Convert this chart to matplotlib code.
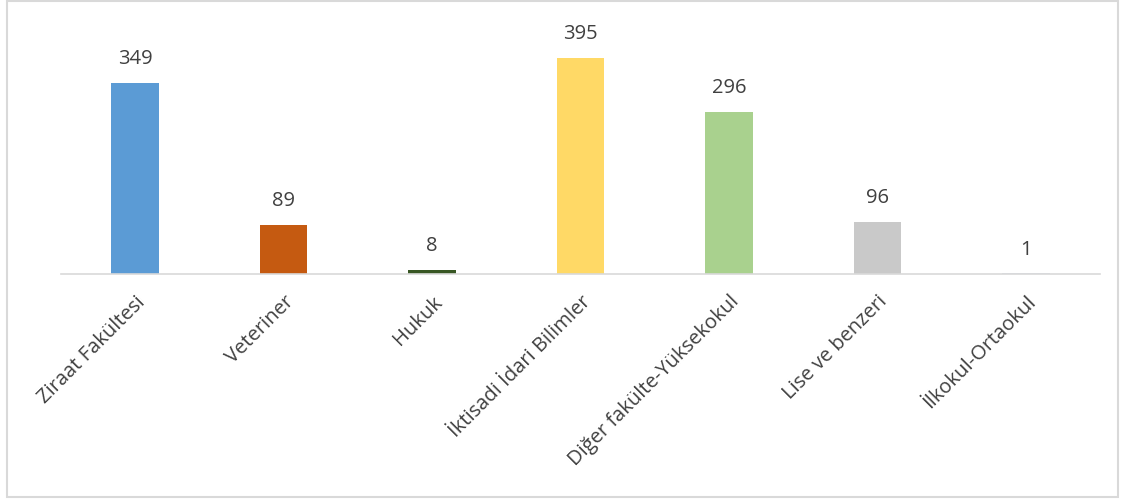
import matplotlib.pyplot as plt
from matplotlib.patches import Rectangle

plt.rcParams['font.family'] = ['Open Sans', 'DejaVu Sans']

categories = ['Ziraat Fakültesi', 'Veteriner', 'Hukuk', 'İktisadi İdari Bilimler',
              'Diğer fakülte-Yüksekokul', 'Lise ve benzeri', 'İlkokul-Ortaokul']
values = [349, 89, 8, 395, 296, 96, 1]
colors = ['#5B9BD5', '#C55A11', '#375623', '#FFD966', '#A9D18E', '#C9C9C9', '#D6DCE5']

fig = plt.figure(figsize=(11.22, 5), dpi=100)
ax = fig.add_axes([61/1122, 1 - 274/500, 1039/1122, 246/500])

x = range(len(categories))
bars = ax.bar(x, values, width=0.32, color=colors, zorder=2)
for b, v in zip(bars, values):
    ax.annotate(str(v), (b.get_x() + b.get_width()/2, v), xytext=(0, 10),
                textcoords='offset points', ha='center', va='bottom',
                fontsize=14.5, color='#404040')

ax.set_xlim(-0.5, len(categories) - 0.5)
ax.set_ylim(0, 450)
ax.set_yticks([])
ax.set_xticks(list(x))
ax.set_xticklabels(categories, rotation=45, ha='right', rotation_mode='anchor',
                   fontsize=14.5, color='#404040')
ax.tick_params(axis='x', length=0, pad=13)
for s in ['top', 'right', 'left']:
    ax.spines[s].set_visible(False)
ax.spines['bottom'].set_color('#D9D9D9')
ax.spines['bottom'].set_linewidth(1.2)

fig.patches.append(Rectangle((7/1122, 3/500), 1111/1122, 496/500, transform=fig.transFigure,
                             fill=False, edgecolor='#D9D9D9', linewidth=1.5))

plt.savefig('out.png', dpi=100)
